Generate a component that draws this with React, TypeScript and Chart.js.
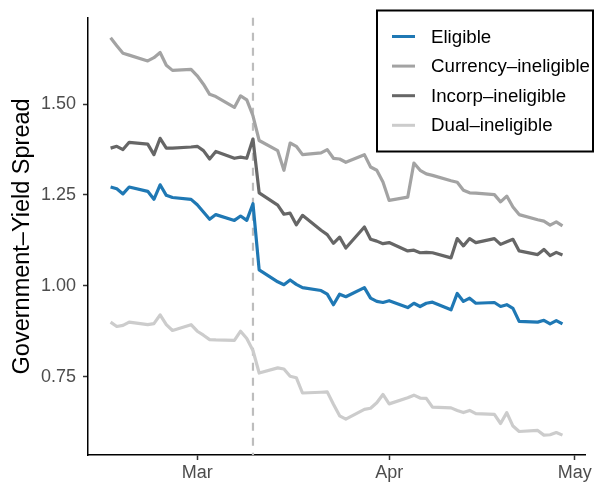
import React, { useEffect, useRef } from "react";
import { Chart, registerables } from "chart.js";

Chart.register(...registerables);

// ---------------- data ----------------
const dates = [
  "2022-02-15", "2022-02-16", "2022-02-17", "2022-02-18",
  "2022-02-21", "2022-02-22", "2022-02-23", "2022-02-24", "2022-02-25",
  "2022-02-28", "2022-03-01", "2022-03-02", "2022-03-03", "2022-03-04",
  "2022-03-07", "2022-03-08", "2022-03-09", "2022-03-10", "2022-03-11",
  "2022-03-14", "2022-03-15", "2022-03-16", "2022-03-17", "2022-03-18",
  "2022-03-21", "2022-03-22", "2022-03-23", "2022-03-24", "2022-03-25",
  "2022-03-28", "2022-03-29", "2022-03-30", "2022-03-31", "2022-04-01",
  "2022-04-04", "2022-04-05", "2022-04-06", "2022-04-07", "2022-04-08",
  "2022-04-11", "2022-04-12", "2022-04-13", "2022-04-14", "2022-04-15",
  "2022-04-18", "2022-04-19", "2022-04-20", "2022-04-21", "2022-04-22",
  "2022-04-25", "2022-04-26", "2022-04-27", "2022-04-28", "2022-04-29",
];

const eligible = [
  1.272, 1.267, 1.253, 1.272,
  1.260, 1.238, 1.278, 1.249, 1.243,
  1.238, 1.223, 1.203, 1.183, 1.196,
  1.180, 1.192, 1.180, 1.226, 1.044,
  1.011, 1.003, 1.016, 1.004, 0.995,
  0.987, 0.977, 0.948, 0.977, 0.970,
  0.995, 0.966, 0.957, 0.954, 0.959,
  0.940, 0.952, 0.943, 0.952, 0.955,
  0.934, 0.979, 0.957, 0.966, 0.952,
  0.954, 0.943, 0.948, 0.938, 0.902,
  0.900, 0.905, 0.895, 0.904, 0.895,
];

const currencyIneligible = [
  1.683, 1.661, 1.640, 1.635,
  1.619, 1.628, 1.642, 1.607, 1.593,
  1.596, 1.578, 1.555, 1.527, 1.521,
  1.491, 1.523, 1.512, 1.468, 1.400,
  1.372, 1.318, 1.393, 1.384, 1.361,
  1.366, 1.375, 1.351, 1.349, 1.340,
  1.361, 1.327, 1.318, 1.286, 1.235,
  1.244, 1.338, 1.318, 1.308, 1.304,
  1.289, 1.285, 1.263, 1.256, 1.255,
  1.251, 1.231, 1.247, 1.217, 1.196,
  1.182, 1.178, 1.167, 1.176, 1.165,
];

const incorpIneligible = [
  1.379, 1.384, 1.375, 1.395,
  1.390, 1.361, 1.406, 1.379, 1.379,
  1.382, 1.384, 1.372, 1.349, 1.370,
  1.351, 1.354, 1.351, 1.404, 1.256,
  1.222, 1.197, 1.200, 1.168, 1.194,
  1.153, 1.141, 1.117, 1.134, 1.104,
  1.162, 1.128, 1.123, 1.116, 1.119,
  1.096, 1.098, 1.091, 1.092, 1.091,
  1.077, 1.130, 1.110, 1.130, 1.119,
  1.130, 1.114, 1.121, 1.128, 1.096,
  1.086, 1.100, 1.083, 1.092, 1.085,
];

const dualIneligible = [
  0.900, 0.888, 0.891, 0.900,
  0.893, 0.896, 0.920, 0.893, 0.877,
  0.893, 0.875, 0.864, 0.852, 0.851,
  0.850, 0.875, 0.855, 0.822, 0.760,
  0.774, 0.771, 0.751, 0.747, 0.705,
  0.707, 0.708, 0.674, 0.642, 0.633,
  0.660, 0.663, 0.678, 0.701, 0.675,
  0.692, 0.699, 0.691, 0.690, 0.666,
  0.664, 0.657, 0.651, 0.657, 0.648,
  0.646, 0.621, 0.651, 0.614, 0.599,
  0.602, 0.589, 0.590, 0.596, 0.589,
];

const seriesLabels = ["Eligible", "Currency–ineligible", "Incorp–ineligible", "Dual–ineligible"];
const seriesColors = ["#1f78b4", "#a3a3a3", "#666666", "#cccccc"];

const xTickDates = ["2022-03-01", "2022-04-01", "2022-05-01"];
const xTickLabels = ["Mar", "Apr", "May"];
const yTicks = [0.75, 1.0, 1.25, 1.5];
const eventDate = "2022-03-10";
const yTitle = "Government–Yield Spread";

// ---------------- helpers ----------------
const FONT = "'Liberation Sans', Arial, Helvetica, sans-serif";
const ORIGIN = Date.UTC(2022, 2, 1);
const dayNum = (s: string) => {
  const [y, m, d] = s.split("-").map(Number);
  return (Date.UTC(y, m - 1, d) - ORIGIN) / 86400000;
};

const xDays = dates.map(dayNum);
const xTickDays = xTickDates.map(dayNum);
const eventDay = dayNum(eventDate);
const allSeries = [eligible, currencyIneligible, incorpIneligible, dualIneligible];

const xLo = Math.min(...xDays);
const xHi = Math.max(...xDays);
const allY = allSeries.flat();
const yLo = Math.min(...allY);
const yHi = Math.max(...allY);
const xMin = xLo - 0.05 * (xHi - xLo);
const xMax = xHi + 0.05 * (xHi - xLo);
const yMin = yLo - 0.05 * (yHi - yLo);
const yMax = yHi + 0.05 * (yHi - yLo);

const vlinePlugin = {
  id: "eventLine",
  beforeDatasetsDraw(chart: any) {
    const { ctx, chartArea, scales } = chart;
    const x = scales.x.getPixelForValue(eventDay);
    ctx.save();
    ctx.strokeStyle = "#bdbdbd";
    ctx.lineWidth = 2.2;
    ctx.setLineDash([8, 7]);
    ctx.beginPath();
    ctx.moveTo(x, chartArea.top);
    ctx.lineTo(x, chartArea.bottom);
    ctx.stroke();
    ctx.restore();
  },
};

const legendPlugin = {
  id: "boxLegend",
  afterDraw(chart: any) {
    const { ctx } = chart;
    const left = 377;
    const top = 10.5;
    const right = 593;
    const bottom = 151.5;
    ctx.save();
    ctx.fillStyle = "#ffffff";
    ctx.fillRect(left, top, right - left, bottom - top);
    ctx.strokeStyle = "#000000";
    ctx.lineWidth = 2;
    ctx.strokeRect(left, top, right - left, bottom - top);
    const rowY0 = 36.5;
    const rowStep = 29.6;
    ctx.font = `18.7px ${FONT}`;
    ctx.textBaseline = "middle";
    ctx.textAlign = "left";
    chart.data.datasets.forEach((ds: any, i: number) => {
      const y = rowY0 + i * rowStep;
      ctx.strokeStyle = ds.borderColor;
      ctx.lineWidth = 3;
      ctx.setLineDash([]);
      ctx.beginPath();
      ctx.moveTo(392, y);
      ctx.lineTo(415, y);
      ctx.stroke();
      ctx.fillStyle = "#000000";
      ctx.fillText(ds.label, 431, y + 1);
    });
    ctx.restore();
  },
};

export default function App() {
  const ref = useRef<HTMLCanvasElement>(null);

  useEffect(() => {
    const canvas = ref.current;
    if (!canvas) return;
    const datasets = allSeries.map((vals, i) => ({
      label: seriesLabels[i],
      data: vals.map((v, j) => ({ x: xDays[j], y: v })),
      borderColor: seriesColors[i],
      backgroundColor: seriesColors[i],
      borderWidth: 3.2,
      borderJoinStyle: "round" as const,
      pointRadius: 0,
      tension: 0,
      fill: false,
      order: allSeries.length - i,
    }));

    const chart = new Chart(canvas, {
      type: "line",
      data: { datasets },
      options: {
        animation: false,
        responsive: false,
        devicePixelRatio: 1,
        layout: { padding: { top: 14, right: 7, bottom: 0, left: 0 } },
        plugins: {
          legend: { display: false },
          tooltip: { enabled: false },
        },
        scales: {
          x: {
            type: "linear",
            min: xMin,
            max: xMax,
            afterFit: (s: any) => {
              s.height = 30;
            },
            afterBuildTicks: (s: any) => {
              s.ticks = xTickDays.map((v) => ({ value: v }));
            },
            ticks: {
              autoSkip: false,
              maxRotation: 0,
              padding: 2,
              color: "#4d4d4d",
              font: { family: FONT, size: 18 },
              callback: (v: any) => {
                const i = xTickDays.indexOf(Number(v));
                return i >= 0 ? xTickLabels[i] : "";
              },
            },
            grid: {
              drawOnChartArea: false,
              drawTicks: true,
              tickLength: 5,
              tickColor: "#333333",
              tickWidth: 1.5,
            },
            border: { display: true, color: "#000000", width: 1.5 },
          },
          y: {
            type: "linear",
            min: yMin,
            max: yMax,
            afterFit: (s: any) => {
              s.width = 88;
            },
            afterBuildTicks: (s: any) => {
              s.ticks = yTicks.map((v) => ({ value: v }));
            },
            ticks: {
              padding: 7,
              color: "#4d4d4d",
              font: { family: FONT, size: 18 },
              callback: (v: any) => Number(v).toFixed(2),
            },
            grid: {
              drawOnChartArea: false,
              drawTicks: true,
              tickLength: 5,
              tickColor: "#333333",
              tickWidth: 1.5,
            },
            border: { display: true, color: "#000000", width: 1.5 },
            title: {
              display: true,
              text: yTitle,
              color: "#000000",
              font: { family: FONT, size: 23.5 },
              padding: { top: 8, bottom: 0 },
            },
          },
        },
      },
      plugins: [vlinePlugin, legendPlugin],
    });

    return () => chart.destroy();
  }, []);

  return (
    <div
      style={{
        position: "fixed",
        left: 0,
        top: 0,
        width: 594,
        height: 485,
        background: "#ffffff",
      }}
    >
      <canvas
        ref={ref}
        width={594}
        height={485}
        style={{ display: "block", width: 594, height: 485 }}
      />
    </div>
  );
}
